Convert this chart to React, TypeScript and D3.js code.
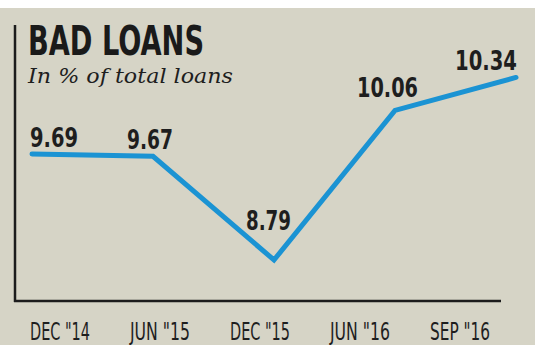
import React from "react";
import * as d3 from "d3";

const categories = ['DEC "14', 'JUN "15', 'DEC "15', 'JUN "16', 'SEP "16'];
const values = [9.69, 9.67, 8.79, 10.06, 10.34];
const valueLabels = ["9.69", "9.67", "8.79", "10.06", "10.34"];
const title = "BAD LOANS";
const subtitle = "In % of total loans";

// label styling (anchor + offsets relative to the point)
const labelAnchor = ["start", "middle", "end", "middle", "end"];
const labelDx = [-2, -3, 17, -7.5, 1];
const labelDy = [-7, -7, -30, -13, -7];
const labelWidth = [48, 46, 45, 61, 62];

const W = 541;
const H = 351;

export default function App() {
  const x = d3.scalePoint<string>().domain(categories).range([32, 516]);
  const xLabel = d3.scalePoint<string>().domain(categories).range([60, 460]);
  const y = d3.scaleLinear().domain([8.79, 9.69]).range([260, 154]);

  const line = d3
    .line<number>()
    .x((_, i) => x(categories[i]) as number)
    .y((d) => y(d));

  const condensed = "'Liberation Sans Narrow', 'DejaVu Sans Condensed', 'Roboto Condensed', sans-serif";

  return (
    <svg
      width={W}
      height={H}
      style={{ position: "absolute", left: 0, top: 0, display: "block" }}
    >
      <rect x={0} y={0} width={W} height={H} fill="#ffffff" />
      <rect x={0} y={8} width={535} height={337} fill="#d6d4c6" />
      {/* axes */}
      <line x1={15} y1={25} x2={15} y2={302} stroke="#1c1c1c" strokeWidth={2.5} />
      <line x1={14} y1={301} x2={501} y2={301} stroke="#1c1c1c" strokeWidth={2.5} />

      <text
        x={28}
        y={55}
        fontFamily={condensed}
        fontWeight="bold"
        fontSize={41}
        fill="#1a1a1a"
        textLength={176}
        lengthAdjust="spacingAndGlyphs"
      >
        {title}
      </text>
      <text
        x={28}
        y={83}
        fontFamily="'DejaVu Serif', 'Liberation Serif', serif"
        fontStyle="italic"
        fontWeight="normal"
        fontSize={21}
        fill="#1e1e1e"
        textLength={205}
        lengthAdjust="spacingAndGlyphs"
      >
        {subtitle}
      </text>

      <path
        d={line(values) || ""}
        fill="none"
        stroke="#1b93d3"
        strokeWidth={5}
        strokeLinejoin="miter"
        strokeLinecap="round"
      />

      {values.map((v, i) => (
        <text
          key={i}
          x={(x(categories[i]) as number) + labelDx[i]}
          y={y(v) + labelDy[i]}
          textAnchor={labelAnchor[i] as any}
          fontFamily={condensed}
          fontWeight="bold"
          fontSize={27}
          fill="#1e1e1e"
          textLength={labelWidth[i]}
          lengthAdjust="spacingAndGlyphs"
        >
          {valueLabels[i]}
        </text>
      ))}

      {categories.map((c) => (
        <text
          key={c}
          x={xLabel(c) as number}
          y={340}
          textAnchor="middle"
          fontFamily={condensed}
          fontSize={25}
          fill="#1e1e1e"
          textLength={60}
          lengthAdjust="spacingAndGlyphs"
        >
          {c}
        </text>
      ))}
    </svg>
  );
}
